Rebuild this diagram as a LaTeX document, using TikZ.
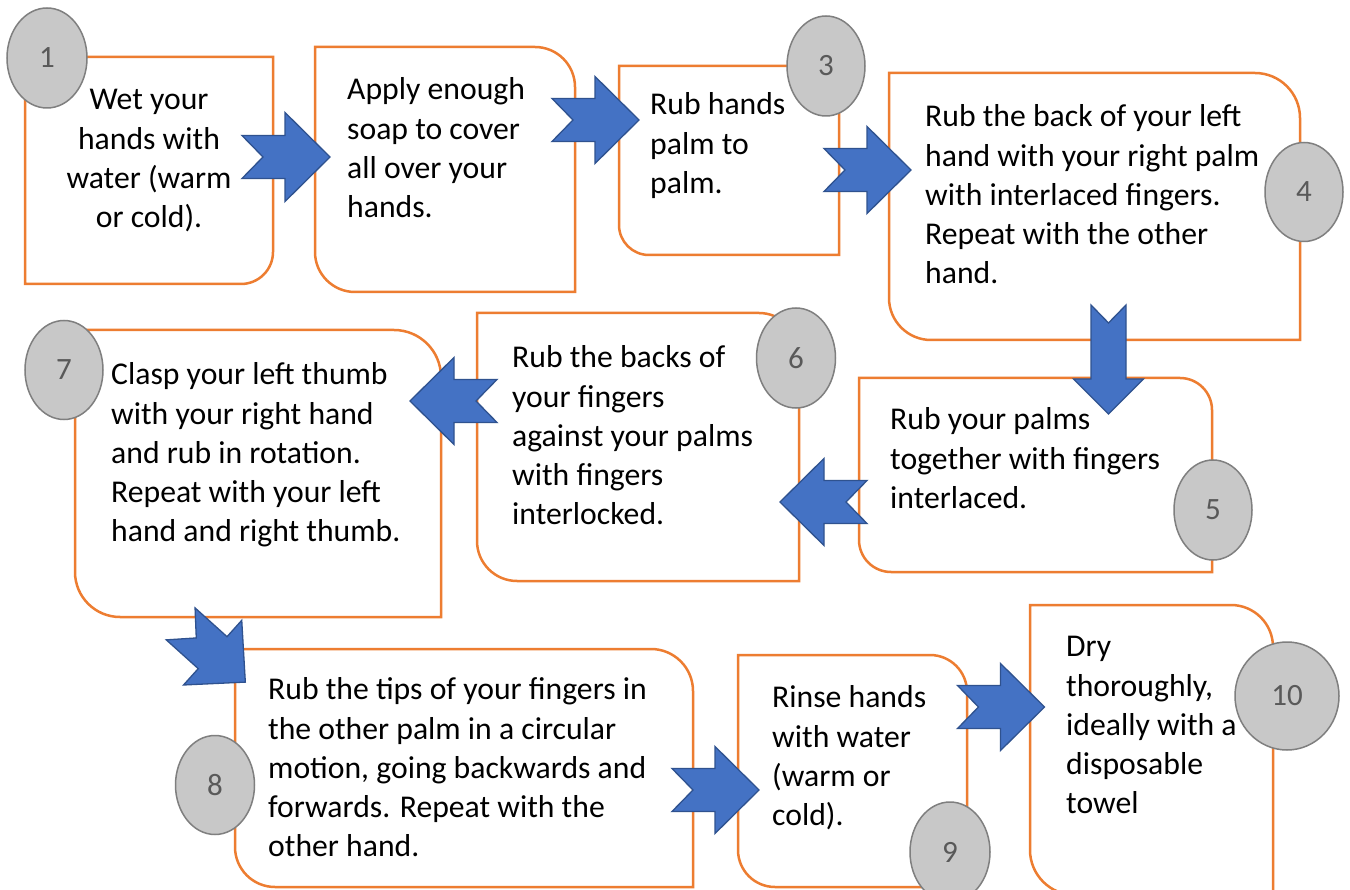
\documentclass[tikz,border=0pt]{standalone}
\usepackage{fontspec}
\setmainfont{Carlito}
\usetikzlibrary{shapes.geometric}
\definecolor{orangeline}{HTML}{ED7D31}
\definecolor{arrowfill}{HTML}{4472C4}
\definecolor{arrowline}{HTML}{2F528F}
\definecolor{circfill}{HTML}{C8C8C8}
\definecolor{circline}{HTML}{7F7F7F}
\definecolor{numcol}{HTML}{595959}
\tikzset{
  boxst/.style={draw=orangeline, line width=2.5pt, fill=white, line join=miter},
  arrowst/.style={fill=arrowfill, draw=arrowline, line width=1.3pt, line join=miter},
  txt/.style={font=\fontsize{31.7}{39.1}\selectfont, inner sep=0pt, align=left, anchor=north west, text=black},
  numc/.style={ellipse, draw=circline, fill=circfill, line width=1.5pt, inner sep=0pt,
    font=\fontsize{31}{33}\selectfont, text=numcol},
}
% round-diagonal box: x1,y1,x2,y2, radius top-right, radius bottom-left
\newcommand\rdbox[6]{%
  \draw[boxst] (#1,#2) -- (#3-#5,#2) .. controls (#3-0.448*#5,#2) and (#3,#2+0.448*#5) .. (#3,#2+#5)
    -- (#3,#4) -- (#1+#6,#4) .. controls (#1+0.448*#6,#4) and (#1,#4-0.448*#6) .. (#1,#4-#6) -- cycle;}
% notched block arrow: cx,cy,angle,length,head length,head half,shaft half,notch
\newcommand\blockarrow[8]{%
  \begin{scope}[shift={(#1,#2)},rotate=#3]
    \filldraw[arrowst] (-#4/2,-#7) -- (#4/2-#5,-#7) -- (#4/2-#5,-#6) -- (#4/2,0)
      -- (#4/2-#5,#6) -- (#4/2-#5,#7) -- (-#4/2,#7) -- (-#4/2+#8,0) -- cycle;
  \end{scope}}
\begin{document}
\begin{tikzpicture}[x=1pt,y=-1pt]
\clip (0,0) rectangle (1350,890);
\useasboundingbox (0,0) rectangle (1350,890);
\fill[white] (0,0) rectangle (1350,890);

% boxes
\draw[boxst] (25,57) -- (273,57) -- (273,284-32) .. controls (273,284-0.448*32) and (273-0.448*32,284) .. (273-32,284) -- (25,284) -- cycle;
\rdbox{315}{47}{575}{292}{40}{40}
\draw[boxst] (619,66) -- (839,66) -- (839,255) -- (619+30,255) .. controls (619+0.448*30,255) and (619,255-0.448*30) .. (619,255-30) -- cycle;
\rdbox{889}{73}{1300}{340}{45}{42}
\rdbox{859}{378}{1212}{572}{32}{32}
\rdbox{477}{313}{799}{581}{40}{40}
\rdbox{75}{330}{441}{617}{47}{45}
\rdbox{235}{649}{693}{887}{42}{40}
\rdbox{738}{655}{967}{887}{37}{37}
\rdbox{1030}{605}{1273}{895}{42}{45}

% arrows
\blockarrow{286}{157}{0}{88}{45}{44.5}{21.5}{21}
\blockarrow{595.5}{120}{0}{87}{44}{43.5}{21.5}{21}
\blockarrow{867.5}{170}{0}{87}{44}{43.5}{21.5}{21}
\blockarrow{1108.5}{359.5}{-90}{109}{35}{35}{17.5}{18}
\blockarrow{823.5}{502}{180}{87}{44}{43.5}{21.5}{21}
\blockarrow{453.5}{401}{180}{87}{44}{43.5}{21.5}{21}
\blockarrow{213}{653}{-42}{87}{44}{43.5}{21.5}{21}
\blockarrow{715.5}{790}{0}{87}{44}{43.5}{21.5}{21}
\blockarrow{1001}{707}{0}{87}{44}{43.5}{21.5}{21}

% number circles
\node[numc, minimum width=80pt, minimum height=100pt] (c1) at (47,58) {1};
\node[numc, minimum width=78pt, minimum height=100pt] (c3) at (826,66) {3};
\node[numc, minimum width=78pt, minimum height=99pt] (c4) at (1304,192) {4};
\node[numc, minimum width=78pt, minimum height=100pt] (c5) at (1213,510) {5};
\node[numc, minimum width=79pt, minimum height=100pt] (c6) at (796,358) {6};
\node[numc, minimum width=78pt, minimum height=99pt] (c7) at (64,370) {7};
\node[numc, minimum width=79pt, minimum height=99pt] (c8) at (215,785) {8};
\node[numc, minimum width=80pt, minimum height=100pt] (c9) at (950,852) {9};
\node[numc, minimum width=104pt, minimum height=108pt] (c10) at (1287,696) {10};

% texts
\node[txt, anchor=north, align=center] (t1) at (149,82.35) {\strut Wet your\\hands with\\water (warm\\or cold).};
\node[txt] (t2) at (347,72.35) {\strut Apply enough\\soap to cover\\all over your\\hands.};
\node[txt] (t3) at (650,87.35) {\strut Rub hands\\palm to\\palm.};
\node[txt] (t4) at (925,99.35) {\strut Rub the back of your left\\hand with your right palm\\with interlaced fingers.\\Repeat with the other\\hand.};
\node[txt] (t5) at (890,402.35) {\strut Rub your palms\\together with fingers\\interlaced.};
\node[txt] (t6) at (512,340.35) {\strut Rub the backs of\\your fingers\\against your palms\\with fingers\\interlocked.};
\node[txt] (t7) at (111,357.35) {\strut Clasp your left thumb\\with your right hand\\and rub in rotation.\\Repeat with your left\\hand and right thumb.};
\node[txt] (t8) at (268,672.35) {\strut Rub the tips of your fingers in\\the other palm in a circular\\motion, going backwards and\\forwards. Repeat with the\\other hand.};
\node[txt] (t9) at (772,680.35) {\strut Rinse hands\\with water\\(warm or\\cold).};
\node[txt] (t10) at (1066,629.35) {\strut Dry\\thoroughly,\\ideally with a\\disposable\\towel};
\end{tikzpicture}
\end{document}
